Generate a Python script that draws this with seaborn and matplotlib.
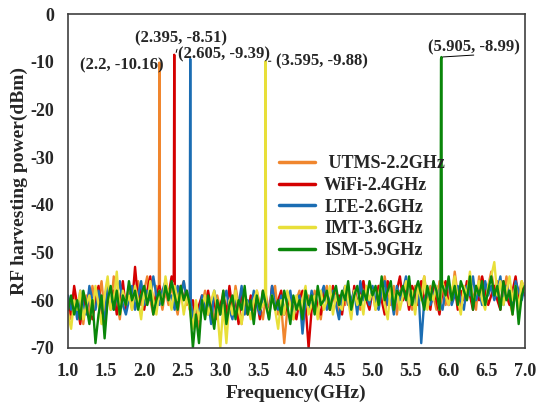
import numpy as np
import pandas as pd
import matplotlib
matplotlib.use("Agg")
import matplotlib.pyplot as plt
import seaborn as sns

# Measured spectrum: noise floor sampled every 0.04 GHz from 1.00 to 7.00 GHz
freq_start, freq_stop, freq_step = 1.00, 7.00, 0.04

utms_floor = [
    -61, -64, -58, -62, -60, -65, -59, -63, -57, -61,
    -60, -56, -63, -59, -62, -55, -60, -64, -58, -61,
    -57, -62, -59, -56, -61, -58, -55, -60, -63, -57,
    -59, -62, -58, -61, -57, -60, -63, -58, -56, -61,
    -59, -64, -62, -66, -61, -58, -63, -60, -65, -59,
    -62, -58, -64, -60, -63, -57, -61, -65, -59, -62,
    -60, -63, -58, -61, -64, -59, -62, -60, -57, -63,
    -61, -69, -62, -59, -64, -60, -58, -63, -61, -59,
    -62, -58, -61, -64, -59, -57, -62, -60, -58, -63,
    -59, -61, -57, -63, -58, -60, -62, -56, -59, -61,
    -58, -62, -57, -60, -55, -59, -61, -57, -63, -58,
    -60, -56, -59, -62, -57, -61, -58, -55, -60, -57,
    -59, -62, -56, -58, -61, -57, -60, -54, -59, -62,
    -57, -60, -56, -59, -62, -55, -58, -61, -57, -54,
    -58, -56, -61, -59, -55, -60, -63, -57, -59, -56,
    -58,
]
wifi_floor = [
    -60, -63, -57, -61, -65, -59, -62, -58, -64, -60,
    -57, -62, -66, -59, -61, -58, -63, -60, -56, -62,
    -59, -61, -53, -60, -57, -62, -58, -55, -61, -59,
    -57, -60, -56, -59, -55, -58, -61, -57, -60, -58,
    -62, -60, -65, -61, -59, -63, -58, -62, -60, -64,
    -61, -59, -63, -57, -62, -60, -65, -58, -61, -63,
    -59, -62, -60, -64, -58, -61, -63, -57, -62, -60,
    -58, -63, -61, -59, -62, -64, -60, -58, -61, -70,
    -62, -59, -61, -63, -58, -60, -62, -57, -61, -59,
    -63, -58, -60, -62, -57, -61, -59, -56, -60, -62,
    -58, -61, -57, -60, -63, -56, -59, -61, -58, -55,
    -60, -58, -62, -57, -59, -61, -56, -60, -58, -62,
    -57, -60, -63, -58, -56, -61, -59, -57, -62, -58,
    -60, -56, -59, -62, -57, -60, -55, -58, -61, -59,
    -57, -60, -62, -56, -59, -61, -58, -55, -60, -57,
    -59,
]
lte_floor = [
    -59, -62, -60, -64, -58, -61, -63, -57, -60, -62,
    -58, -61, -64, -57, -60, -62, -59, -56, -61, -63,
    -60, -57, -62, -59, -56, -61, -58, -60, -55, -59,
    -61, -58, -56, -60, -59, -62, -57, -59, -56, -60,
    -58, -64, -61, -63, -59, -62, -60, -65, -58, -61,
    -63, -60, -58, -62, -64, -59, -61, -57, -63, -60,
    -62, -58, -61, -63, -59, -60, -64, -57, -61, -62,
    -59, -62, -60, -58, -63, -61, -59, -67, -60, -62,
    -58, -61, -63, -59, -57, -62, -60, -58, -61, -64,
    -59, -57, -61, -60, -58, -63, -56, -60, -59, -61,
    -57, -60, -62, -58, -56, -61, -59, -63, -57, -60,
    -58, -55, -61, -59, -62, -57, -69, -60, -58, -61,
    -59, -57, -60, -62, -58, -56, -61, -59, -57, -60,
    -62, -57, -59, -55, -60, -58, -61, -56, -59, -57,
    -60, -58, -55, -61, -57, -59, -62, -56, -58, -60,
    -57,
]
imt_floor = [
    -63, -66, -60, -62, -58, -64, -61, -59, -63, -57,
    -61, -65, -59, -55, -62, -60, -54, -63, -58, -61,
    -59, -62, -57, -60, -64, -58, -61, -56, -60, -63,
    -58, -61, -55, -59, -62, -57, -60, -58, -63, -59,
    -62, -66, -60, -64, -61, -59, -63, -60, -58, -62,
    -70, -61, -69, -60, -63, -58, -62, -65, -59, -61,
    -64, -60, -58, -62, -61, -60, -63, -59, -62, -66,
    -60, -63, -58, -61, -64, -59, -62, -60, -57, -63,
    -61, -59, -64, -58, -62, -60, -57, -63, -59, -61,
    -62, -57, -60, -64, -58, -61, -59, -63, -57, -60,
    -58, -62, -59, -56, -61, -64, -57, -60, -58, -62,
    -59, -56, -61, -58, -63, -57, -60, -55, -62, -58,
    -60, -57, -62, -56, -59, -61, -58, -55, -60, -63,
    -57, -59, -54, -61, -58, -56, -60, -62, -57, -55,
    -52, -59, -56, -61, -58, -55, -60, -57, -62, -56,
    -58,
]
ism_floor = [
    -62, -59, -63, -60, -64, -58, -61, -65, -60, -69,
    -63, -59, -68, -60, -57, -62, -58, -63, -59, -61,
    -56, -60, -58, -62, -59, -57, -61, -58, -63, -60,
    -58, -61, -57, -60, -56, -59, -62, -57, -60, -58,
    -61, -70, -63, -69, -60, -64, -59, -62, -66, -60,
    -63, -58, -65, -61, -59, -64, -60, -62, -57, -63,
    -60, -65, -59, -62, -58, -61, -64, -59, -62, -60,
    -63, -58, -61, -65, -59, -62, -60, -64, -58, -61,
    -59, -63, -57, -61, -60, -58, -62, -59, -57, -61,
    -58, -60, -56, -62, -59, -57, -61, -58, -60, -56,
    -59, -57, -61, -55, -60, -58, -56, -62, -58, -59,
    -57, -60, -55, -61, -58, -56, -59, -62, -57, -60,
    -56, -58, -62, -57, -59, -55, -60, -57, -61, -56,
    -58, -60, -55, -62, -57, -59, -56, -61, -58, -55,
    -59, -57, -62, -56, -60, -58, -63, -57, -65, -59,
    -57,
]

# Narrow carrier peaks (frequency in GHz, power in dBm)
utms_spike_freq = [2.193, 2.200, 2.207]
utms_spike_dbm = [-58, -10.16, -59]
wifi_spike_freq = [2.388, 2.395, 2.402]
wifi_spike_dbm = [-56, -8.51, -57]
lte_spike_freq = [2.598, 2.605, 2.612]
lte_spike_dbm = [-59, -9.39, -60]
imt_spike_freq = [3.588, 3.595, 3.602]
imt_spike_dbm = [-60, -9.88, -61]
ism_spike_freq = [5.893, 5.900, 5.905, 5.912]
ism_spike_dbm = [-58, -9.40, -8.99, -57]

series_names = [" UTMS-2.2GHz", "WiFi-2.4GHz", "LTE-2.6GHz", "IMT-3.6GHz", "ISM-5.9GHz"]
series_colors = ["#F0862E", "#D40000", "#1B6DB3", "#E8DF3A", "#0A860A"]
floors = [utms_floor, wifi_floor, lte_floor, imt_floor, ism_floor]
spikes = [
    (utms_spike_freq, utms_spike_dbm),
    (wifi_spike_freq, wifi_spike_dbm),
    (lte_spike_freq, lte_spike_dbm),
    (imt_spike_freq, imt_spike_dbm),
    (ism_spike_freq, ism_spike_dbm),
]

grid = np.round(np.arange(len(utms_floor)) * freq_step + freq_start, 3)

frames = []
for name, floor, (sf, sd) in zip(series_names, floors, spikes):
    f = np.asarray(grid)
    v = np.asarray(floor, dtype=float)
    keep = (f < min(sf) - 0.005) | (f > max(sf) + 0.005)
    f = np.concatenate([f[keep], sf])
    v = np.concatenate([v[keep], sd])
    order = np.argsort(f)
    frames.append(pd.DataFrame({"freq": f[order], "power": v[order], "band": name}))
df = pd.concat(frames, ignore_index=True)

sns.set_style("white")
plt.rcParams["font.family"] = ["Liberation Serif", "DejaVu Serif"]
plt.rcParams["font.weight"] = "bold"
plt.rcParams["axes.unicode_minus"] = False

fig = plt.figure(figsize=(5.36, 4.05), dpi=100)
ax = fig.add_axes([0.127, 0.141, 0.852, 0.824])

sns.lineplot(data=df, x="freq", y="power", hue="band", hue_order=series_names,
             palette=series_colors, estimator=None, sort=False, linewidth=1.7,
             ax=ax)

ax.set_xlim(1.0, 7.0)
ax.set_ylim(-70, 0)
xt = np.arange(1.0, 7.01, 0.5)
ax.set_xticks(xt)
ax.set_xticklabels([f"{t:.1f}" for t in xt])
ax.set_yticks(np.arange(-70, 1, 10))
ax.tick_params(axis="both", length=0, labelsize=13)
ax.tick_params(axis="x", pad=11)
ax.tick_params(axis="y", pad=10)
for lab in ax.get_xticklabels() + ax.get_yticklabels():
    lab.set_fontweight("bold")
for sp in ax.spines.values():
    sp.set_color("#404040")
    sp.set_linewidth(1.2)

ax.set_xlabel("Frequency(GHz)", fontsize=14, fontweight="bold", labelpad=3)
ax.set_ylabel("RF harvesting power(dBm)", fontsize=14, fontweight="bold", labelpad=2)

leg = ax.legend(loc="upper left", bbox_to_anchor=(0.462, 0.577), frameon=False,
                fontsize=13, handlelength=2.0, handletextpad=0.5,
                labelspacing=0.26, borderaxespad=0, borderpad=0)
for t in leg.get_texts():
    t.set_fontweight("bold")
for h in leg.get_lines():
    h.set_linewidth(2.5)

# Peak labels
ann_kw = dict(fontsize=12, fontweight="bold", ha="center", va="center")
ax.text(1.71, -10.7, f"({utms_spike_freq[1]}, {utms_spike_dbm[1]})", **ann_kw)
ax.annotate(f"({wifi_spike_freq[1]}, {wifi_spike_dbm[1]})",
            xy=(wifi_spike_freq[1] + 0.02, wifi_spike_dbm[1] + 0.2),
            xytext=(2.48, -5.0), textcoords="data",
            arrowprops=dict(arrowstyle="-", lw=0.7, color="black", relpos=(0.47, 0.0),
                            shrinkA=0, shrinkB=1), **ann_kw)
ax.text(3.05, -8.4, f"({lte_spike_freq[1]}, {lte_spike_dbm[1]})", **ann_kw)
ax.annotate(f"({imt_spike_freq[1]}, {imt_spike_dbm[1]})",
            xy=(imt_spike_freq[1] + 0.02, imt_spike_dbm[1]),
            xytext=(4.33, -9.85), textcoords="data",
            arrowprops=dict(arrowstyle="-", lw=0.7, color="black", relpos=(0.0, 0.5),
                            shrinkA=1, shrinkB=1), **ann_kw)
ax.annotate(f"({ism_spike_freq[2]}, {ism_spike_dbm[2]})",
            xy=(ism_spike_freq[2], ism_spike_dbm[2]),
            xytext=(6.33, -6.9), textcoords="data",
            arrowprops=dict(arrowstyle="-", lw=0.7, color="black", relpos=(0.5, 0.0),
                            shrinkA=0, shrinkB=1), **ann_kw)

fig.savefig("out.png", dpi=100)
